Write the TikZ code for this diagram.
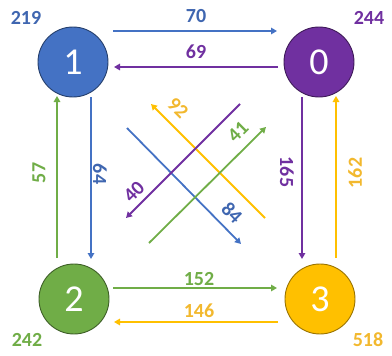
\documentclass[tikz,border=0pt]{standalone}
\usepackage{fontspec}
\setmainfont{Carlito}
\usetikzlibrary{arrows.meta}
\definecolor{cblue}{HTML}{4472C4}
\definecolor{cpurple}{HTML}{7030A0}
\definecolor{cgreen}{HTML}{70AD47}
\definecolor{cgold}{HTML}{FFC000}
\definecolor{tblue}{HTML}{3F66B0}
\definecolor{tgold}{HTML}{F2B82E}
\tikzset{
  vert/.style={circle, minimum size=70pt, inner sep=0pt, line width=0.9pt, text=white,
    font=\fontsize{38}{38}\selectfont},
  lbl/.style={font=\fontsize{20}{20}\selectfont\bfseries, inner sep=0pt},
  edge/.style={line width=1.8pt, -{Triangle[length=6pt,width=6.5pt]}},
}
\begin{document}
\begin{tikzpicture}[x=1pt,y=-1pt]
\useasboundingbox (0,0) rectangle (392,356);
% vertices
\node[vert, fill=cblue, draw=cblue!55!black] (n1) at (73,62) {1};
\node[vert, fill=cpurple, draw=cpurple!55!black] (n0) at (319,62) {0};
\node[vert, fill=cgreen, draw=cgreen!55!black] (n2) at (74,299) {2};
\node[vert, fill=cgold, draw=cgold!60!black] (n3) at (320,299) {3};
% totals
\node[lbl, text=tblue] (t1) at (26,18) {219};
\node[lbl, text=cpurple] (t0) at (369,18) {244};
\node[lbl, text=cgreen] (t2) at (27,340) {242};
\node[lbl, text=tgold] (t3) at (368,340) {518};
% coordinates for horizontal edges
\coordinate (a70s) at (113,31); \coordinate (a70e) at (277,31);
\coordinate (a69s) at (278,67); \coordinate (a69e) at (114,67);
\coordinate (a152s) at (113,288); \coordinate (a152e) at (277,288);
\coordinate (a146s) at (278,322); \coordinate (a146e) at (114,322);
% vertical edges
\coordinate (a57s) at (57,258); \coordinate (a57e) at (57,96);
\coordinate (a64s) at (91,97); \coordinate (a64e) at (91,259);
\coordinate (a165s) at (302,97); \coordinate (a165e) at (302,259);
\coordinate (a162s) at (336,258); \coordinate (a162e) at (336,96);
% diagonals
\coordinate (d40s) at (240,104); \coordinate (d40e) at (126,218);
\coordinate (d92s) at (265,218); \coordinate (d92e) at (151,104);
\coordinate (d41s) at (149,243); \coordinate (d41e) at (266,127);
\coordinate (d84s) at (127,128); \coordinate (d84e) at (241,244);

\draw[edge, cblue] (a70s) -- (a70e);
\draw[edge, cpurple] (a69s) -- (a69e);
\draw[edge, cgreen] (a152s) -- (a152e);
\draw[edge, cgold] (a146s) -- (a146e);
\draw[edge, cgreen] (a57s) -- (a57e);
\draw[edge, cblue] (a64s) -- (a64e);
\draw[edge, cpurple] (a165s) -- (a165e);
\draw[edge, cgold] (a162s) -- (a162e);

\draw[edge, cblue] (d84s) -- (d84e);
\draw[edge, cgold] (d92s) -- (d92e);
\draw[edge, cgreen] (d41s) -- (d41e);
\draw[edge, cpurple] (d40s) -- (d40e);

% edge labels
\node[lbl, text=tblue] (l70) at (196,16) {70};
\node[lbl, text=cpurple] (l69) at (196,52) {69};
\node[lbl, text=cgreen] (l152) at (199,279) {152};
\node[lbl, text=tgold] (l146) at (199,311) {146};
\node[lbl, text=cgreen, rotate=90] (l57) at (39,173) {57};
\node[lbl, text=tblue, rotate=-90] (l64) at (100,174) {64};
\node[lbl, text=cpurple, rotate=-90] (l165) at (287,172) {165};
\node[lbl, text=tgold, rotate=90] (l162) at (355,173) {162};
\node[lbl, text=cpurple, rotate=45] (l40) at (134,192) {40};
\node[lbl, text=tgold, rotate=-45] (l92) at (178,108) {92};
\node[lbl, text=cgreen, rotate=45] (l41) at (238,132) {41};
\node[lbl, text=tblue, rotate=-45] (l84) at (232,213) {84};
\end{tikzpicture}
\end{document}
